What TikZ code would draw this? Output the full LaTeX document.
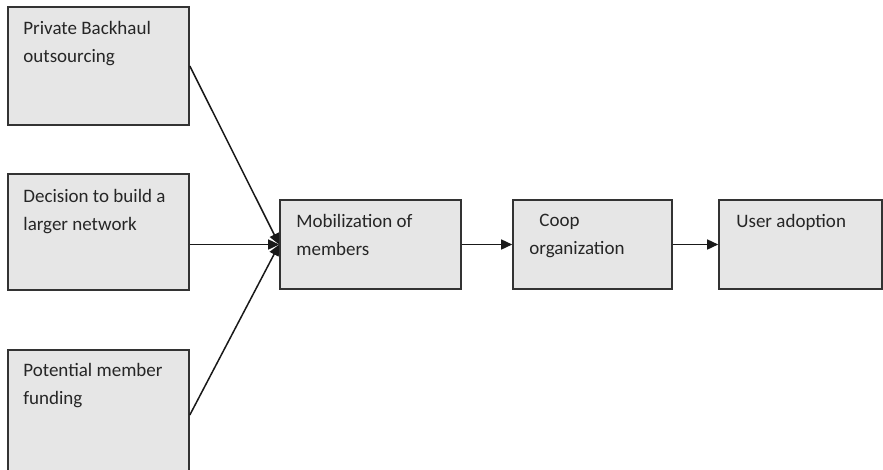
\documentclass[tikz,border=0pt]{standalone}
\usepackage{fontspec}
\setmainfont{Carlito}
\usetikzlibrary{arrows.meta}
\definecolor{boxfill}{HTML}{E6E6E6}
\definecolor{boxline}{HTML}{333333}
\tikzset{
  box/.style={draw=boxline, fill=boxfill, line width=1.6pt, rectangle, inner sep=0pt},
  boxtext/.style={anchor=north west, align=left, font=\fontsize{19}{28}\selectfont, inner sep=0pt, text=black!85},
  conn/.style={line width=1.5pt, black!90, -{Triangle[length=11pt,width=10pt]}}
}
\begin{document}
\begin{tikzpicture}[x=1pt,y=-1pt]
\useasboundingbox (0,0) rectangle (883,469);
\node[box, minimum width=181pt, minimum height=118pt] (b1) at (98.5,66) {};
\node[box, minimum width=181pt, minimum height=116pt] (b2) at (98.5,232) {};
\node[box, minimum width=181pt, minimum height=130pt] (b3) at (98.5,415) {};
\node[box, minimum width=181pt, minimum height=89pt] (mob) at (370.5,244.5) {};
\node[box, minimum width=159pt, minimum height=89pt] (coop) at (592.5,244.5) {};
\node[box, minimum width=163pt, minimum height=89pt] (user) at (800.5,244.5) {};

\node[boxtext] (t1) at ([xshift=16pt,yshift=-15pt]b1.north west) {Private Backhaul\\outsourcing};
\node[boxtext] (t2) at ([xshift=16pt,yshift=-16pt]b2.north west) {Decision to build a\\larger network};
\node[boxtext] (t3) at ([xshift=16pt,yshift=-14pt]b3.north west) {Potential member\\funding};
\node[boxtext] (t4) at ([xshift=17pt,yshift=-15pt]mob.north west) {Mobilization of\\members};
\node[boxtext] (t5) at ([xshift=17pt,yshift=-15pt]coop.north west) {\hspace*{10pt}Coop\\organization};
\node[boxtext] (t6) at ([xshift=18pt,yshift=-15pt]user.north west) {User adoption};

\draw[conn] (b1.east) -- (mob.west);
\draw[conn] (b2.east |- mob.west) -- (mob.west);
\draw[conn] (b3.east) -- (mob.west);
\draw[conn] (mob.east) -- (coop.west);
\draw[conn] (coop.east) -- (user.west);
\end{tikzpicture}
\end{document}
